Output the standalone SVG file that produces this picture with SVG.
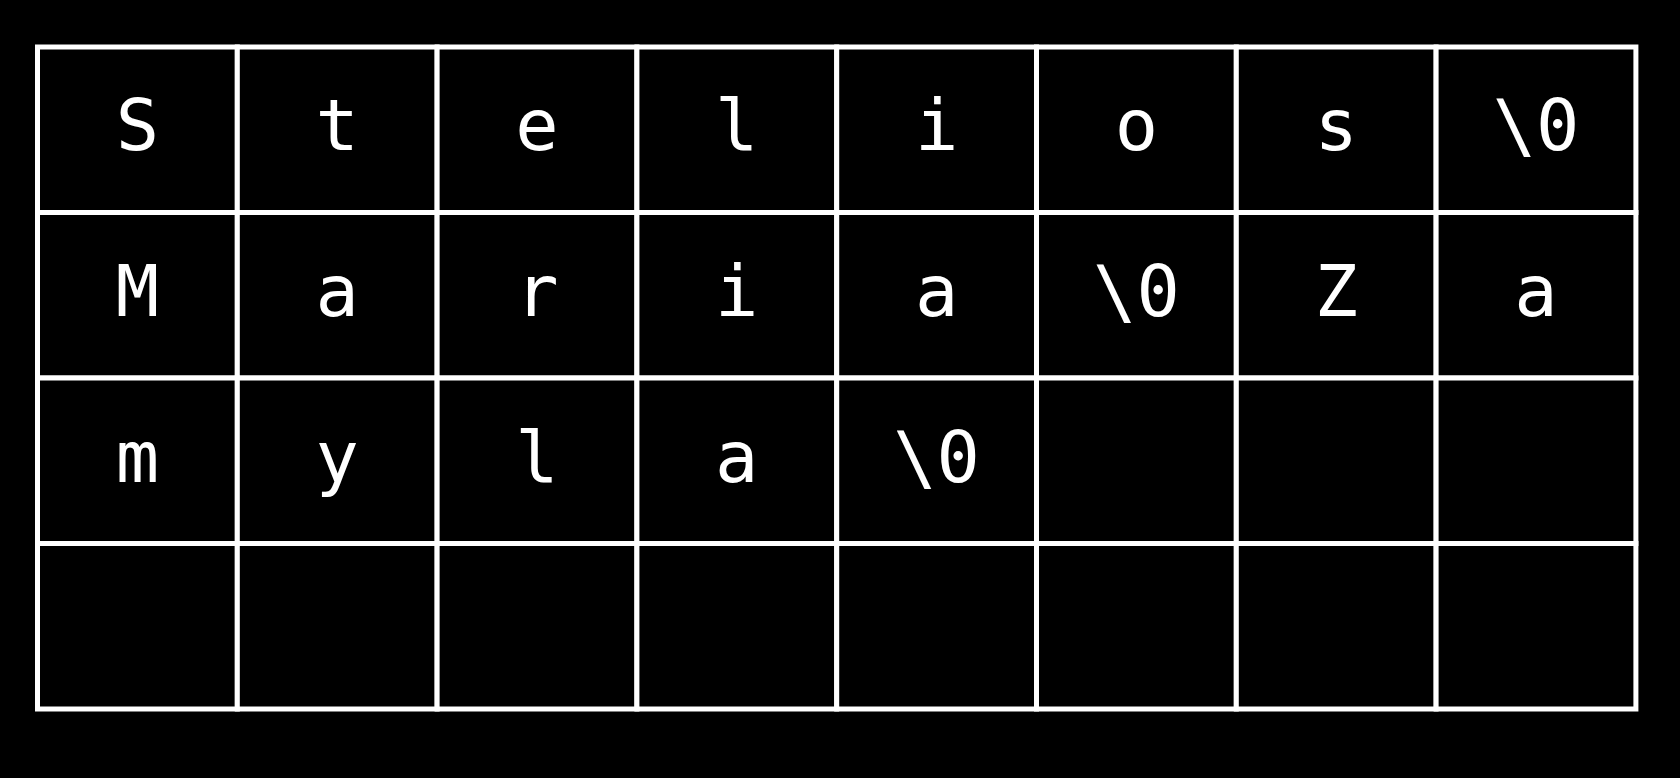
<svg xmlns="http://www.w3.org/2000/svg" width="1680" height="778" viewBox="0 0 1680 778">
<style>
.cell{fill:#000;stroke:#fff;stroke-width:5}
.t{fill:#fff;font-family:"DejaVu Sans Mono","Liberation Mono",monospace;font-size:72px;text-anchor:middle}
</style>
<rect x="0" y="0" width="1680" height="778" fill="#000"/>
<g id="row1">
<g id="c1-1"><rect class="cell" x="37.5" y="47" width="199.8" height="165.5"/><text class="t" x="137.4" y="150">S</text></g>
<g id="c1-2"><rect class="cell" x="237.3" y="47" width="199.8" height="165.5"/><text class="t" x="337.2" y="150">t</text></g>
<g id="c1-3"><rect class="cell" x="437.1" y="47" width="199.8" height="165.5"/><text class="t" x="537" y="150">e</text></g>
<g id="c1-4"><rect class="cell" x="636.9" y="47" width="199.8" height="165.5"/><text class="t" x="736.8" y="150">l</text></g>
<g id="c1-5"><rect class="cell" x="836.7" y="47" width="199.8" height="165.5"/><text class="t" x="936.6" y="150">i</text></g>
<g id="c1-6"><rect class="cell" x="1036.5" y="47" width="199.8" height="165.5"/><text class="t" x="1136.4" y="150">o</text></g>
<g id="c1-7"><rect class="cell" x="1236.3" y="47" width="199.8" height="165.5"/><text class="t" x="1336.2" y="150">s</text></g>
<g id="c1-8"><rect class="cell" x="1436.1" y="47" width="199.8" height="165.5"/><text class="t" x="1536" y="150">\0</text></g>
</g>
<g id="row2">
<g id="c2-1"><rect class="cell" x="37.5" y="212.5" width="199.8" height="165.5"/><text class="t" x="137.4" y="316">M</text></g>
<g id="c2-2"><rect class="cell" x="237.3" y="212.5" width="199.8" height="165.5"/><text class="t" x="337.2" y="316">a</text></g>
<g id="c2-3"><rect class="cell" x="437.1" y="212.5" width="199.8" height="165.5"/><text class="t" x="537" y="316">r</text></g>
<g id="c2-4"><rect class="cell" x="636.9" y="212.5" width="199.8" height="165.5"/><text class="t" x="736.8" y="316">i</text></g>
<g id="c2-5"><rect class="cell" x="836.7" y="212.5" width="199.8" height="165.5"/><text class="t" x="936.6" y="316">a</text></g>
<g id="c2-6"><rect class="cell" x="1036.5" y="212.5" width="199.8" height="165.5"/><text class="t" x="1136.4" y="316">\0</text></g>
<g id="c2-7"><rect class="cell" x="1236.3" y="212.5" width="199.8" height="165.5"/><text class="t" x="1336.2" y="316">Z</text></g>
<g id="c2-8"><rect class="cell" x="1436.1" y="212.5" width="199.8" height="165.5"/><text class="t" x="1536" y="316">a</text></g>
</g>
<g id="row3">
<g id="c3-1"><rect class="cell" x="37.5" y="378" width="199.8" height="165.5"/><text class="t" x="137.4" y="482">m</text></g>
<g id="c3-2"><rect class="cell" x="237.3" y="378" width="199.8" height="165.5"/><text class="t" x="337.2" y="482">y</text></g>
<g id="c3-3"><rect class="cell" x="437.1" y="378" width="199.8" height="165.5"/><text class="t" x="537" y="482">l</text></g>
<g id="c3-4"><rect class="cell" x="636.9" y="378" width="199.8" height="165.5"/><text class="t" x="736.8" y="482">a</text></g>
<g id="c3-5"><rect class="cell" x="836.7" y="378" width="199.8" height="165.5"/><text class="t" x="936.6" y="482">\0</text></g>
<g id="c3-6"><rect class="cell" x="1036.5" y="378" width="199.8" height="165.5"/></g>
<g id="c3-7"><rect class="cell" x="1236.3" y="378" width="199.8" height="165.5"/></g>
<g id="c3-8"><rect class="cell" x="1436.1" y="378" width="199.8" height="165.5"/></g>
</g>
<g id="row4">
<g id="c4-1"><rect class="cell" x="37.5" y="543.5" width="199.8" height="165.5"/></g>
<g id="c4-2"><rect class="cell" x="237.3" y="543.5" width="199.8" height="165.5"/></g>
<g id="c4-3"><rect class="cell" x="437.1" y="543.5" width="199.8" height="165.5"/></g>
<g id="c4-4"><rect class="cell" x="636.9" y="543.5" width="199.8" height="165.5"/></g>
<g id="c4-5"><rect class="cell" x="836.7" y="543.5" width="199.8" height="165.5"/></g>
<g id="c4-6"><rect class="cell" x="1036.5" y="543.5" width="199.8" height="165.5"/></g>
<g id="c4-7"><rect class="cell" x="1236.3" y="543.5" width="199.8" height="165.5"/></g>
<g id="c4-8"><rect class="cell" x="1436.1" y="543.5" width="199.8" height="165.5"/></g>
</g>
<g id="connectors"></g>
</svg>
